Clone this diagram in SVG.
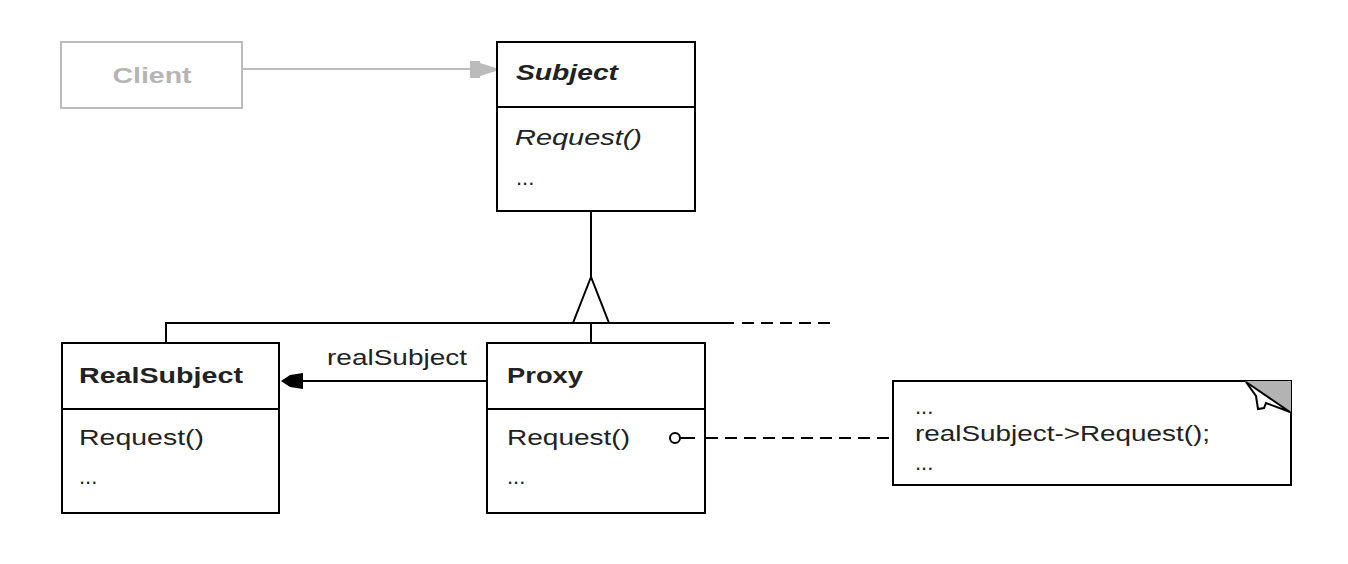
<svg xmlns="http://www.w3.org/2000/svg" width="1348" height="564" viewBox="0 0 1348 564">
  <style>
    .box { fill: #ffffff; stroke: #000000; stroke-width: 2; }
    .ghost { fill: #ffffff; stroke: #bbbbbb; stroke-width: 2; }
    .line { fill: none; stroke: #000000; stroke-width: 2; }
    .dash { fill: none; stroke: #000000; stroke-width: 2; stroke-dasharray: 12 7; }
    .t { font-family: "Liberation Sans", Arial, sans-serif; font-size: 22px; fill: #222222; }
    .b { font-weight: bold; }
    .i { font-style: italic; }
    .g { fill: #b5b5b5; }
  </style>

  <!-- Client -->
  <g id="client">
    <rect class="ghost" x="61" y="42" width="181" height="66"/>
    <text class="t b g" x="152" y="83" text-anchor="middle" textLength="79" lengthAdjust="spacingAndGlyphs">Client</text>
  </g>

  <!-- Subject -->
  <g id="subject">
    <rect class="box" x="497" y="42" width="198" height="169"/>
    <line class="line" x1="497" y1="107" x2="695" y2="107"/>
    <text class="t b i" x="516" y="80" textLength="102" lengthAdjust="spacingAndGlyphs">Subject</text>
    <text class="t i" x="515" y="145" textLength="127" lengthAdjust="spacingAndGlyphs">Request()</text>
    <text class="t" x="516" y="185">...</text>
  </g>

  <!-- RealSubject -->
  <g id="realsubject">
    <rect class="box" x="62" y="343" width="217" height="170"/>
    <line class="line" x1="62" y1="409" x2="279" y2="409"/>
    <text class="t b" x="79" y="383" textLength="164" lengthAdjust="spacingAndGlyphs">RealSubject</text>
    <text class="t" x="79" y="445" textLength="125" lengthAdjust="spacingAndGlyphs">Request()</text>
    <text class="t" x="79" y="484">...</text>
  </g>

  <!-- Proxy -->
  <g id="proxy">
    <rect class="box" x="487" y="343" width="218" height="170"/>
    <line class="line" x1="487" y1="409" x2="705" y2="409"/>
    <text class="t b" x="507" y="383" textLength="76" lengthAdjust="spacingAndGlyphs">Proxy</text>
    <text class="t" x="507" y="445" textLength="123" lengthAdjust="spacingAndGlyphs">Request()</text>
    <text class="t" x="507" y="484">...</text>
  </g>

  <!-- implementation note -->
  <g id="note">
    <rect class="box" x="893" y="381" width="398" height="104"/>
    <polygon points="1245,381 1291,381 1291,412" fill="#b3b3b3"/>
    <polygon points="1246,382 1256,396 1258,409 1264,408 1266,403 1290,412" fill="#ffffff" stroke="#000000" stroke-width="2" stroke-linejoin="miter"/>
    <text class="t" x="915" y="414">...</text>
    <text class="t" x="915" y="441" textLength="295" lengthAdjust="spacingAndGlyphs">realSubject-&gt;Request();</text>
    <text class="t" x="915" y="470">...</text>
  </g>

  <!-- connectors -->
  <g id="connectors">
    <!-- Client uses Subject -->
    <line x1="242" y1="69" x2="472" y2="69" stroke="#bbbbbb" stroke-width="2"/>
    <polygon points="470,61 480,61 480,63 496,68 496,71 480,76 480,78 470,78" fill="#bbbbbb"/>
    <!-- inheritance -->
    <line class="line" x1="591" y1="212" x2="591" y2="277"/>
    <polygon points="591,277 573,323 609,323" fill="#ffffff" stroke="#000000" stroke-width="2"/>
    <line class="line" x1="166" y1="323" x2="734" y2="323"/>
    <line class="dash" x1="742" y1="323" x2="832" y2="323"/>
    <line class="line" x1="166" y1="322" x2="166" y2="342"/>
    <line class="line" x1="591" y1="323" x2="591" y2="342"/>
    <!-- realSubject reference -->
    <line class="line" x1="300" y1="381" x2="486" y2="381"/>
    <polygon points="281,381 290,375 303,373 303,389 290,387" fill="#000000"/>
    <text class="t" x="327" y="365" textLength="140" lengthAdjust="spacingAndGlyphs">realSubject</text>
    <!-- note link -->
    <circle cx="675" cy="438" r="5" fill="#ffffff" stroke="#000000" stroke-width="2"/>
    <line class="line" x1="680" y1="438" x2="695" y2="438"/>
    <line class="dash" x1="706" y1="438" x2="892" y2="438"/>
  </g>
</svg>
